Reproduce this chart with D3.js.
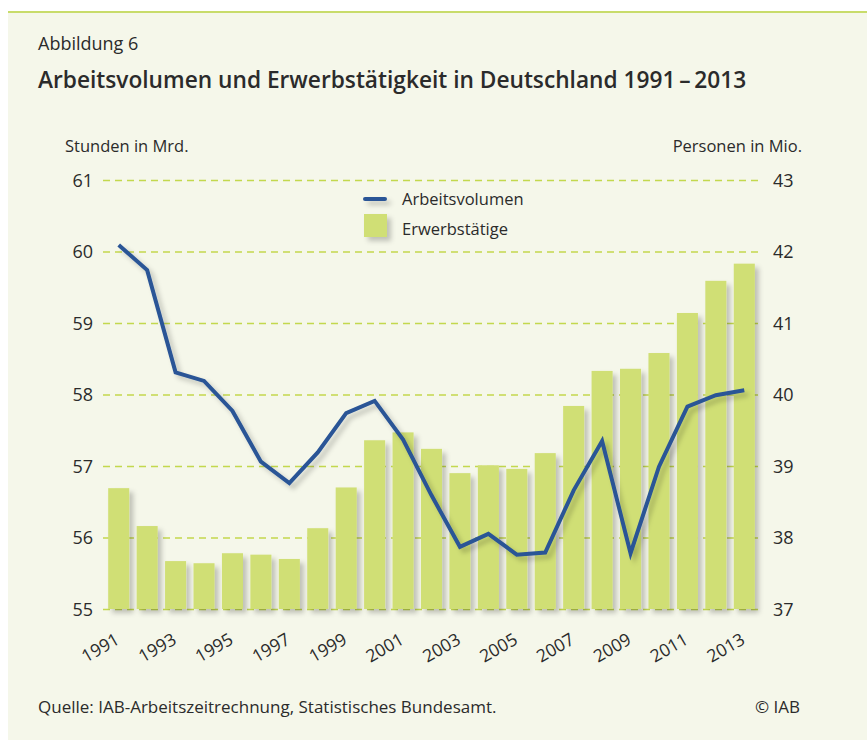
<!DOCTYPE html>
<html>
<head>
<meta charset="utf-8">
<script src="https://cdn.jsdelivr.net/npm/d3@7"></script>
<style>
  html, body { margin: 0; padding: 0; background: #ffffff; }
  svg { display: block; }
  text { font-family: "Open Sans", "Noto Sans", sans-serif; fill: #2b2b2b; }
</style>
</head>
<body>
<script>
// ---- data ----
const years = ["1991","1992","1993","1994","1995","1996","1997","1998","1999","2000","2001","2002",
               "2003","2004","2005","2006","2007","2008","2009","2010","2011","2012","2013"];
// Erwerbstätige (Personen in Mio., right axis)
const erwerbstaetige = [38.69, 38.16, 37.67, 37.64, 37.78, 37.76, 37.70, 38.13, 38.70, 39.36, 39.47, 39.24,
                        38.90, 39.01, 38.96, 39.18, 39.84, 40.33, 40.36, 40.58, 41.14, 41.59, 41.83];
// Arbeitsvolumen (Stunden in Mrd., left axis)
const arbeitsvolumen = [60.09, 59.74, 58.31, 58.19, 57.77, 57.06, 56.76, 57.19, 57.74, 57.91, 57.37, 56.59,
                        55.87, 56.05, 55.76, 55.79, 56.66, 57.35, 55.78, 56.99, 57.83, 57.99, 58.06];
const leftTicks = [55, 56, 57, 58, 59, 60, 61];
const rightTicks = [37, 38, 39, 40, 41, 42, 43];
const xLabels = ["1991","1993","1995","1997","1999","2001","2003","2005","2007","2009","2011","2013"];

const W = 867, H = 740;
const svg = d3.select("body").append("svg").attr("width", W).attr("height", H);

const defs = svg.append("defs");
const f = defs.append("filter").attr("id", "shadow").attr("filterUnits", "userSpaceOnUse")
  .attr("x", 0).attr("y", 0).attr("width", W).attr("height", H);
f.append("feDropShadow").attr("dx", 4).attr("dy", 4).attr("stdDeviation", 2.5)
  .attr("flood-color", "#000").attr("flood-opacity", 0.22);

// panel
svg.append("rect").attr("x", 8).attr("y", 12).attr("width", W - 8).attr("height", H - 12).attr("fill", "#f5f7ea");
svg.append("rect").attr("x", 8).attr("y", 11).attr("width", W - 8).attr("height", 2).attr("fill", "#c8dc6a");

// titles
svg.append("text").attr("x", 38).attr("y", 50).attr("font-size", 18).text("Abbildung 6");
svg.append("text").attr("x", 38).attr("y", 88).attr("font-size", 22.7).attr("font-weight", 600)
  .text("Arbeitsvolumen und Erwerbstätigkeit in Deutschland 1991\u2009\u2013\u20092013");

// scales
const x = d3.scaleBand().domain(years).range([104.5, 758.5]).paddingInner(0.26).paddingOuter(0.13);
const yL = d3.scaleLinear().domain([55, 61]).range([609, 180]);
const yR = d3.scaleLinear().domain([37, 43]).range([609, 180]);

// axis titles
svg.append("text").attr("x", 65).attr("y", 152).attr("font-size", 16.5).text("Stunden in Mrd.");
svg.append("text").attr("x", 802).attr("y", 152).attr("font-size", 16.5).attr("text-anchor", "end").text("Personen in Mio.");

// gridlines
const grid = svg.append("g");
grid.selectAll("line").data(leftTicks).join("line")
  .attr("x1", 103).attr("x2", 760)
  .attr("y1", d => yL(d) + 0.5).attr("y2", d => yL(d) + 0.5)
  .attr("stroke", "#c3d84e").attr("stroke-width", 1.3).attr("stroke-dasharray", "7,5");

// left axis
const axL = d3.axisLeft(yL).tickValues(leftTicks).tickFormat(d3.format("d")).tickSize(0).tickPadding(0);
const gL = svg.append("g").attr("transform", "translate(93,0)").call(axL);
gL.select(".domain").remove();
gL.selectAll("text").attr("font-size", 18).attr("fill", "#2b2b2b").attr("dy", "0.35em")
  .style("font-family", '"Open Sans", sans-serif');

// right axis
const axR = d3.axisRight(yR).tickValues(rightTicks).tickFormat(d3.format("d")).tickSize(0).tickPadding(0);
const gR = svg.append("g").attr("transform", "translate(773,0)").call(axR);
gR.select(".domain").remove();
gR.selectAll("text").attr("font-size", 18).attr("fill", "#2b2b2b").attr("dy", "0.35em")
  .style("font-family", '"Open Sans", sans-serif');

// bars
svg.append("g").attr("filter", "url(#shadow)")
  .selectAll("rect").data(years).join("rect")
  .attr("x", d => x(d)).attr("width", x.bandwidth())
  .attr("y", (d, i) => yR(erwerbstaetige[i]))
  .attr("height", (d, i) => yR(37) - yR(erwerbstaetige[i]))
  .attr("fill", "#d0df74");

// line
const line = d3.line()
  .x((d, i) => x(years[i]) + x.bandwidth() / 2)
  .y(d => yL(d));
svg.append("path").datum(arbeitsvolumen)
  .attr("d", line).attr("fill", "none")
  .attr("stroke", "#2a5596").attr("stroke-width", 4)
  .attr("stroke-linejoin", "miter").attr("filter", "url(#shadow)");

// x labels
const axX = d3.axisBottom(x).tickValues(xLabels).tickSize(0).tickPadding(0);
const gX = svg.append("g").attr("transform", "translate(0,609)").call(axX);
gX.select(".domain").remove();
gX.selectAll("text")
  .attr("font-size", 17.5).attr("fill", "#2b2b2b")
  .style("font-family", '"Open Sans", sans-serif')
  .attr("text-anchor", "end")
  .attr("y", 0).attr("dy", 0)
  .attr("transform", "translate(2,34) rotate(-30)");

// legend
const lg = svg.append("g");
lg.append("line").attr("x1", 365).attr("x2", 385).attr("y1", 199).attr("y2", 199)
  .attr("stroke", "#2a5596").attr("stroke-width", 4).attr("stroke-linecap", "round").attr("filter", "url(#shadow)");
lg.append("text").attr("x", 402).attr("y", 205).attr("font-size", 16.5).text("Arbeitsvolumen");
lg.append("rect").attr("x", 364).attr("y", 214).attr("width", 23).attr("height", 23)
  .attr("fill", "#d0df74").attr("filter", "url(#shadow)");
lg.append("text").attr("x", 402).attr("y", 235).attr("font-size", 16.5).text("Erwerbstätige");

// footer
svg.append("text").attr("x", 38).attr("y", 713).attr("font-size", 17)
  .text("Quelle: IAB-Arbeitszeitrechnung, Statistisches Bundesamt.");
svg.append("text").attr("x", 800).attr("y", 713).attr("font-size", 17).attr("text-anchor", "end").text("© IAB");
</script>
</body>
</html>
